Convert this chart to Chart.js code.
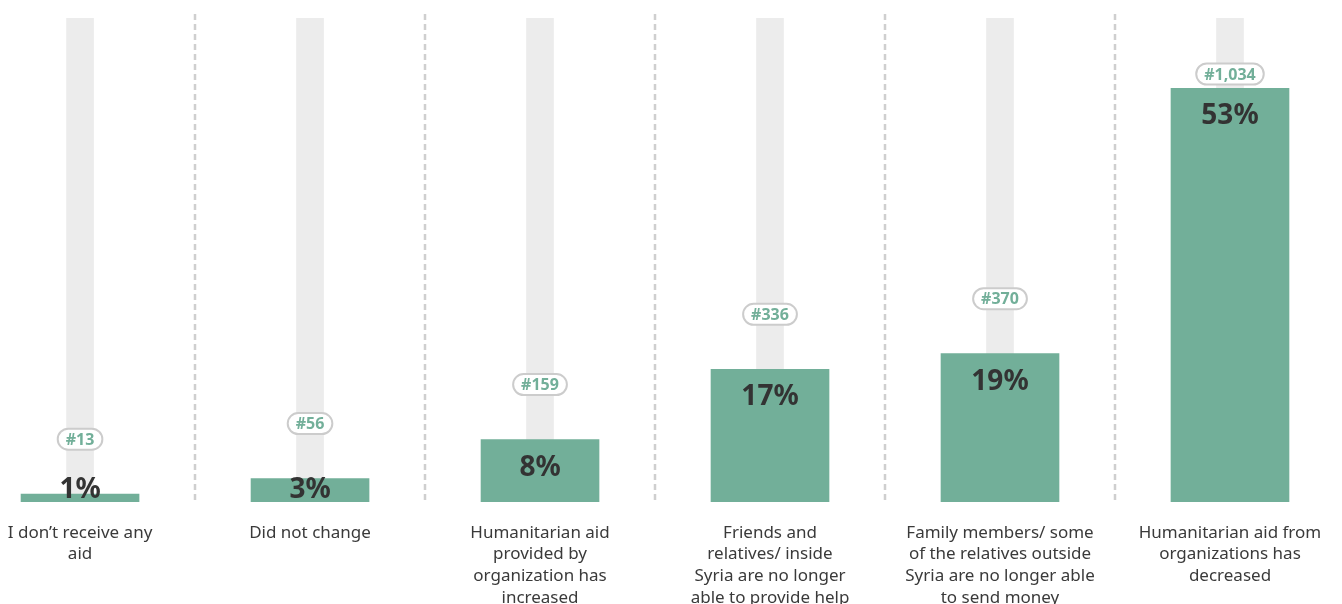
<!DOCTYPE html>
<html>
<head>
<meta charset="utf-8">
<script src="https://cdn.jsdelivr.net/npm/chart.js@4/dist/chart.umd.min.js"></script>
<style>
  html, body { margin: 0; padding: 0; background: #fff; }
  #wrap { width: 1342px; height: 604px; }
</style>
</head>
<body>
<div id="wrap"><canvas id="aidChart"></canvas></div>
<script>
// Data
const categories = [
  ["I don\u2019t receive any", "aid"],
  ["Did not change"],
  ["Humanitarian aid", "provided by", "organization has", "increased"],
  ["Friends and", "relatives/ inside", "Syria are no longer", "able to provide help"],
  ["Family members/ some", "of the relatives outside", "Syria are no longer able", "to send money"],
  ["Humanitarian aid from", "organizations has", "decreased"],
];
const percents = [1, 3, 8, 17, 19, 53];
const counts = [13, 56, 159, 336, 370, 1034];
const trackMax = 62;

const GREEN = "#72af99";
const TRACK = "#ececec";
const DARK = "#333333";
const FONT = "'Noto Sans', sans-serif";

// Dashed separators between columns
const separators = {
  id: "separators",
  beforeDatasetsDraw(chart) {
    const { ctx } = chart;
    const x = chart.scales.x;
    ctx.save();
    ctx.strokeStyle = "#cfcfcf";
    ctx.lineWidth = 2.5;
    ctx.setLineDash([6, 4]);
    for (let i = 0; i < categories.length - 1; i++) {
      const px = Math.round(x.getPixelForValue(i + 0.5));
      ctx.beginPath();
      ctx.moveTo(px, 14);
      ctx.lineTo(px, 500);
      ctx.stroke();
    }
    ctx.restore();
  },
};

// Percent labels on the bars and count pills above them
const barLabels = {
  id: "barLabels",
  afterDatasetsDraw(chart) {
    const { ctx } = chart;
    const bars = chart.getDatasetMeta(0).data;
    const track = chart.getDatasetMeta(1).data;
    ctx.save();
    bars.forEach((bar, i) => {
      const top = bar.y;
      const bottom = bar.base;

      // percentage
      ctx.font = `bold 28px ${FONT}`;
      ctx.fillStyle = DARK;
      ctx.textAlign = "center";
      ctx.textBaseline = "middle";
      const py = Math.min(top + 28, bottom - 12);
      ctx.fillText(percents[i] + "%", bar.x, py);

      // count pill
      const txt = "#" + counts[i].toLocaleString("en-US");
      ctx.font = `bold 16px ${FONT}`;
      const w = ctx.measureText(txt).width + 16;
      const h = 21;
      const cy = Math.max(top - 55, track[i].y + 56);
      ctx.beginPath();
      ctx.roundRect(bar.x - w / 2, cy - h / 2, w, h, h / 2);
      ctx.fillStyle = "#fff";
      ctx.fill();
      ctx.lineWidth = 2;
      ctx.strokeStyle = "#cccccc";
      ctx.stroke();
      ctx.fillStyle = GREEN;
      ctx.fillText(txt, bar.x, cy + 1);
    });
    ctx.restore();
  },
};

new Chart(document.getElementById("aidChart"), {
  type: "bar",
  data: {
    datasets: [
      {
        data: percents.map((v, i) => ({ x: i, y: v })),
        backgroundColor: GREEN,
        barThickness: 118,
        order: 0,
      },
      {
        data: percents.map((v, i) => ({ x: i, y: trackMax })),
        backgroundColor: TRACK,
        barThickness: 27,
        order: 1,
      },
    ],
  },
  options: {
    responsive: true,
    maintainAspectRatio: false,
    animation: false,
    grouped: false,
    layout: { padding: { top: 18, left: 0, right: 0, bottom: 0 } },
    plugins: {
      legend: { display: false },
      tooltip: { enabled: false },
    },
    scales: {
      x: {
        type: "linear",
        min: -0.348,
        max: 5.487,
        offset: false,
        grid: { display: false, drawTicks: false, offset: false },
        border: { display: false },
        afterFit(scale) {
          scale.height = 102;
          // labels fit inside the canvas, no extra side margins
          scale.paddingLeft = 0;
          scale.paddingRight = 0;
        },
        ticks: {
          stepSize: 1,
          includeBounds: false,
          autoSkip: false,
          maxRotation: 0,
          padding: 20,
          color: "#3a3a3a",
          font: { family: FONT, size: 17, lineHeight: 1.28 },
          callback: (v) => (Number.isInteger(v) && categories[v] ? categories[v] : ""),
        },
      },
      y: {
        display: false,
        min: 0,
        max: trackMax,
      },
    },
  },
  plugins: [separators, barLabels],
});
</script>
</body>
</html>
